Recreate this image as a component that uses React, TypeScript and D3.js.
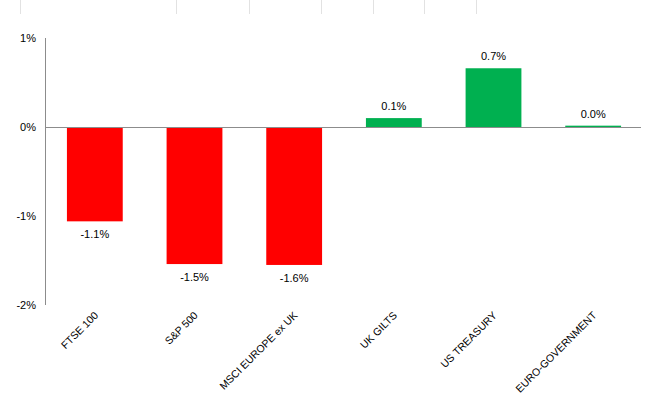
import { useEffect, useRef } from 'react'
import * as d3 from 'd3'

// ── data ─────────────────────────────────────────────────────────────────────
const CATEGORIES = ['FTSE 100', 'S&P 500', 'MSCI EUROPE ex UK', 'UK GILTS', 'US TREASURY', 'EURO-GOVERNMENT']
const VALUES     = [-1.06, -1.54, -1.55, 0.10, 0.66, 0.015]
const LABELS     = ['-1.1%', '-1.5%', '-1.6%', '0.1%', '0.7%', '0.0%']
const Y_TICKS    = [1, 0, -1, -2]
const TOP_RULES  = [20, 176, 249, 321, 373, 424, 476]

// ── constants ────────────────────────────────────────────────────────────────
const W       = 648
const H       = 399
const M       = { top: 38, right: 5, bottom: 94, left: 45 }
const C_NEG   = '#ff0000'
const C_POS   = '#00b050'
const C_AXIS  = '#8c8c8c'
const C_TEXT  = '#000'
const FONT    = 'Arial, "Liberation Sans", sans-serif'

export default function App() {
  const ref = useRef<SVGSVGElement>(null)

  useEffect(() => {
    if (!ref.current) return
    const svg = d3.select(ref.current)
    svg.selectAll('*').remove()

    const iW = W - M.left - M.right
    const iH = H - M.top - M.bottom

    const x = d3.scaleBand<string>().domain(CATEGORIES).range([0, iW]).paddingInner(0.44).paddingOuter(0.22)
    const y = d3.scaleLinear().domain([-2, 1]).range([iH, 0])

    // faint rules left over at the very top
    svg.append('g')
      .selectAll('line')
      .data(TOP_RULES)
      .join('line')
        .attr('x1', d => d + 0.5).attr('x2', d => d + 0.5)
        .attr('y1', 0).attr('y2', 14)
        .attr('stroke', '#e2e2e2')

    const g = svg.append('g').attr('transform', `translate(${M.left},${M.top})`)

    // ── bars ──────────────────────────────────────────────────────────────────
    const data = CATEGORIES.map((c, i) => ({ c, v: VALUES[i], label: LABELS[i] }))

    g.selectAll('rect.bar')
      .data(data)
      .join('rect')
        .attr('class', 'bar')
        .attr('x', d => x(d.c)!)
        .attr('width', x.bandwidth())
        .attr('y', d => y(Math.max(0, d.v)))
        .attr('height', d => Math.abs(y(d.v) - y(0)))
        .attr('fill', d => d.v < 0 ? C_NEG : C_POS)

    g.selectAll('text.val')
      .data(data)
      .join('text')
        .attr('class', 'val')
        .attr('x', d => x(d.c)! + x.bandwidth() / 2)
        .attr('y', d => d.v < 0 ? y(d.v) + 17 : y(d.v) - 8)
        .attr('text-anchor', 'middle')
        .attr('font-family', FONT).attr('font-size', 11)
        .attr('fill', C_TEXT)
        .text(d => d.label)

    // ── axes ──────────────────────────────────────────────────────────────────
    g.append('line')
      .attr('x1', 0.5).attr('x2', 0.5)
      .attr('y1', y(1)).attr('y2', y(-2))
      .attr('stroke', C_AXIS)

    g.append('line')
      .attr('x1', 0).attr('x2', iW - 2)
      .attr('y1', Math.round(y(0)) + 0.5).attr('y2', Math.round(y(0)) + 0.5)
      .attr('stroke', C_AXIS)

    g.selectAll('text.ytick')
      .data(Y_TICKS)
      .join('text')
        .attr('class', 'ytick')
        .attr('x', -9)
        .attr('y', d => y(d) + 4)
        .attr('text-anchor', 'end')
        .attr('font-family', FONT).attr('font-size', 11)
        .attr('fill', C_TEXT)
        .text(d => `${d}%`)

    g.selectAll('text.xtick')
      .data(CATEGORIES)
      .join('text')
        .attr('class', 'xtick')
        .attr('text-anchor', 'end')
        .attr('font-family', FONT).attr('font-size', 10.5)
        .attr('fill', C_TEXT)
        .attr('transform', d => `translate(${x(d)! + x.bandwidth() / 2 + 4},${iH + 11}) rotate(-45)`)
        .text(d => d)
  }, [])

  return (
    <div style={{ position: 'fixed', left: 0, top: 0, background: '#fff' }}>
      <svg ref={ref} width={W} height={H} viewBox={`0 0 ${W} ${H}`} style={{ display: 'block' }} />
    </div>
  )
}
